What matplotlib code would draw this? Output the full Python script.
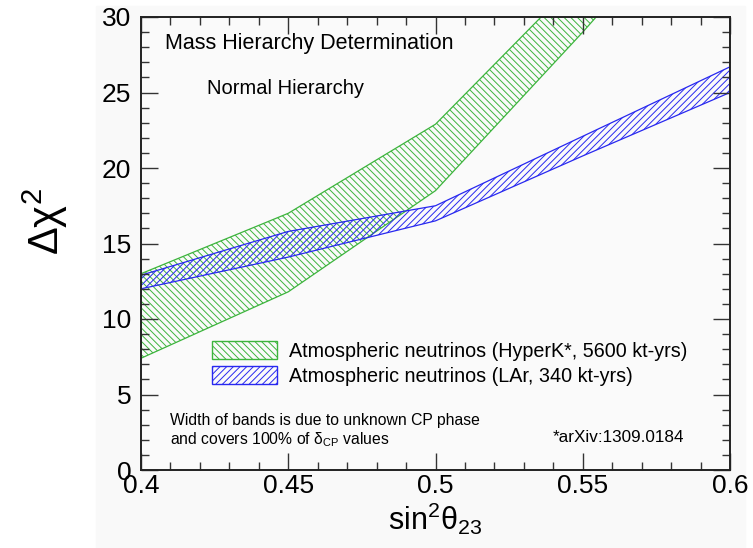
import matplotlib
matplotlib.use("Agg")
import matplotlib.pyplot as plt
from matplotlib.patches import Rectangle, Patch

plt.rcParams["font.family"] = ["Liberation Sans", "DejaVu Sans"]
plt.rcParams["mathtext.fontset"] = "custom"
plt.rcParams["mathtext.rm"] = "Liberation Sans"
plt.rcParams["mathtext.it"] = "Liberation Sans:italic"
plt.rcParams["hatch.linewidth"] = 0.7

# sin^2(theta23) grid and band edges (delta chi^2)
sin2 = [0.40, 0.45, 0.50, 0.55, 0.60]
hyperk_low = [7.4, 11.8, 18.5, 29.0, 40.0]
hyperk_high = [13.0, 17.0, 22.9, 32.8, 42.0]
lar_low = [12.0, 14.1, 16.5, 20.8, 25.0]
lar_high = [12.9, 15.8, 17.5, 22.1, 26.7]

labels = ["Atmospheric neutrinos (HyperK*, 5600 kt-yrs)",
          "Atmospheric neutrinos (LAr, 340 kt-yrs)"]

green = "#3cb43c"
blue = "#2828f0"

fig = plt.figure(figsize=(7.53, 5.48), dpi=100)
fig.patches.append(Rectangle((96 / 753, 0), 1 - 96 / 753 - 8 / 753, 1 - 6 / 548,
                             transform=fig.transFigure, color="#f9f9f9", zorder=-10))
ax = fig.add_axes([141 / 753, 1 - 470 / 548, (730 - 141) / 753, (470 - 17) / 548])
ax.set_facecolor("#fafafa")

ax.fill_between(sin2, hyperk_low, hyperk_high, facecolor="none", edgecolor=green,
                hatch="\\\\\\\\\\", linewidth=0.9)
ax.fill_between(sin2, lar_low, lar_high, facecolor="none", edgecolor=blue,
                hatch="/////", linewidth=0.9)

ax.set_xlim(0.4, 0.6)
ax.set_ylim(0, 30)
ax.set_xticks([0.4, 0.45, 0.5, 0.55, 0.6])
ax.set_xticklabels(["0.4", "0.45", "0.5", "0.55", "0.6"])
ax.set_yticks([0, 5, 10, 15, 20, 25, 30])
ax.set_xticks([0.4 + 0.01 * i for i in range(21)], minor=True)
ax.set_yticks(range(31), minor=True)
ax.tick_params(which="both", direction="in", top=True, right=True, width=1, colors="#333333",
               labelcolor="black")
ax.tick_params(which="major", length=12, labelsize=19)
ax.tick_params(which="minor", length=6)
ax.tick_params(axis="x", pad=3)
ax.tick_params(axis="y", pad=7)
for s in ax.spines.values():
    s.set_linewidth(1.4)
    s.set_color("#222222")

ax.set_xlabel(r"$\mathregular{sin^{2}\theta_{23}}$", fontsize=22, labelpad=2)
fig.text(45 / 753, 1 - 222 / 548, r"$\mathregular{\Delta\chi^{2}}$", fontsize=30,
         rotation=90, ha="center", va="center")

fig.text(165 / 753, 1 - 44 / 548, "Mass Hierarchy Determination", fontsize=15.5, va="center")
fig.text(207 / 753, 1 - 88 / 548, "Normal Hierarchy", fontsize=14.5, va="center")
fig.text(170 / 753, 1 - 420 / 548, "Width of bands is due to unknown CP phase",
         fontsize=11.3, va="center")
fig.text(170 / 753, 1 - 440 / 548, r"and covers 100% of $\mathregular{\delta_{CP}}$ values",
         fontsize=11.3, va="center")
fig.text(553 / 753, 1 - 437 / 548, "*arXiv:1309.0184", fontsize=12.3, va="center")

handles = [Patch(facecolor="none", edgecolor=green, hatch="\\\\\\\\\\"),
           Patch(facecolor="none", edgecolor=blue, hatch="/////")]
ax.legend(handles, labels, loc="upper left", bbox_to_anchor=(212 / 753, 1 - 341 / 548),
          bbox_transform=fig.transFigure, frameon=False, fontsize=14.2,
          handlelength=3.3, handleheight=1.0, handletextpad=0.6, labelspacing=0.3,
          borderpad=0, borderaxespad=0)

fig.savefig("out.png", dpi=100)
